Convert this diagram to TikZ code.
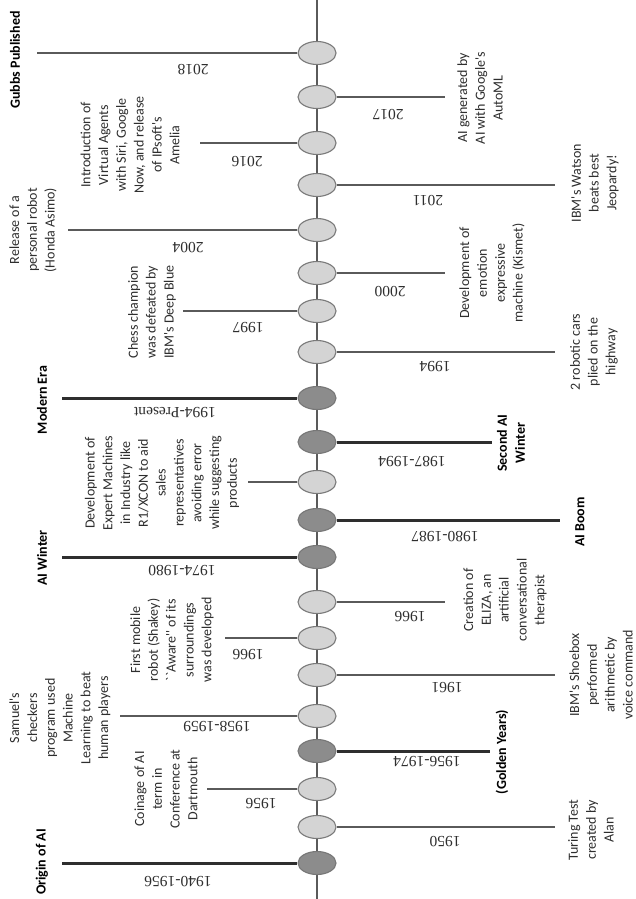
\documentclass[tikz,border=0pt]{standalone}
\usepackage{fontspec}
\usetikzlibrary{shapes.geometric}
\newfontfamily\labfont{Carlito}
\newfontfamily\yearfont{Liberation Serif}
\definecolor{evtfill}{HTML}{D4D4D4}
\definecolor{erafill}{HTML}{8C8C8C}
\definecolor{rimgray}{HTML}{7A7A7A}
\definecolor{linegray}{HTML}{5A5A5A}
\definecolor{eraline}{HTML}{2E2E2E}
\definecolor{txtgray}{HTML}{2E2E2E}
\tikzset{
  evt/.style={ellipse, draw=rimgray, fill=evtfill, line width=1.1pt,
    minimum width=38pt, minimum height=23pt, inner sep=0pt},
  era/.style={evt, fill=erafill, draw=erafill!85!black},
  stem/.style={draw=linegray, line width=2.3pt},
  erastem/.style={draw=eraline, line width=3pt},
  lab/.style={rotate=90, align=center, text=txtgray, inner sep=0pt,
    font=\labfont\fontsize{14}{17.8}\selectfont},
  eralab/.style={lab, text=black, font=\labfont\bfseries\fontsize{14}{17.8}\selectfont},
  yr/.style={rotate=180, text=txtgray, inner sep=0pt,
    font=\yearfont\fontsize{15.5}{17}\selectfont}
}
\begin{document}
\begin{tikzpicture}[x=1pt, y=-1pt]
\useasboundingbox (0,0) rectangle (635,899);
\fill[white] (0,0) rectangle (635,899);
% main axis
\coordinate (top) at (317,0);
\coordinate (bot) at (317,899);
\draw[linegray, line width=2.4pt] (top) -- (bot);
% events along the axis, newest at the top
\node[evt] (e1)  at (317,53)  {};
\node[evt] (e2)  at (317,97)  {};
\node[evt] (e3)  at (317,143) {};
\node[evt] (e4)  at (317,185) {};
\node[evt] (e5)  at (317,230) {};
\node[evt] (e6)  at (317,273) {};
\node[evt] (e7)  at (317,311) {};
\node[evt] (e8)  at (317,352) {};
\node[era] (e9)  at (317,398) {};
\node[era] (e10) at (317,442) {};
\node[evt] (e11) at (317,482) {};
\node[era] (e12) at (317,520) {};
\node[era] (e13) at (317,557) {};
\node[evt] (e14) at (317,602) {};
\node[evt] (e15) at (317,638) {};
\node[evt] (e16) at (317,675) {};
\node[evt] (e17) at (317,716) {};
\node[era] (e18) at (317,751) {};
\node[evt] (e19) at (317,789) {};
\node[evt] (e20) at (317,827) {};
\node[era] (e21) at (317,863) {};
% free ends of the stems
\coordinate (c1)  at (37,53);
\coordinate (c2)  at (445,97);
\coordinate (c3)  at (200,143);
\coordinate (c4)  at (555,185);
\coordinate (c5)  at (68,230);
\coordinate (c6)  at (445,273);
\coordinate (c7)  at (183,311);
\coordinate (c8)  at (555,352);
\coordinate (c9)  at (62,398);
\coordinate (c10) at (492,442);
\coordinate (c11) at (248,482);
\coordinate (c12) at (560,520);
\coordinate (c13) at (62,557);
\coordinate (c14) at (445,602);
\coordinate (c15) at (225,638);
\coordinate (c16) at (555,675);
\coordinate (c17) at (120,716);
\coordinate (c18) at (490,751);
\coordinate (c19) at (207,789);
\coordinate (c20) at (555,827);
\coordinate (c21) at (62,863);
% stems
\draw[stem] (e1.west) -- (c1);
\draw[stem] (e2.east) -- (c2);
\draw[stem] (e3.west) -- (c3);
\draw[stem] (e4.east) -- (c4);
\draw[stem] (e5.west) -- (c5);
\draw[stem] (e6.east) -- (c6);
\draw[stem] (e7.west) -- (c7);
\draw[stem] (e8.east) -- (c8);
\draw[erastem] (e9.west) -- (c9);
\draw[erastem] (e10.east) -- (c10);
\draw[stem] (e11.west) -- (c11);
\draw[erastem] (e12.east) -- (c12);
\draw[erastem] (e13.west) -- (c13);
\draw[stem] (e14.east) -- (c14);
\draw[stem] (e15.west) -- (c15);
\draw[stem] (e16.east) -- (c16);
\draw[stem] (e17.west) -- (c17);
\draw[erastem] (e18.east) -- (c18);
\draw[stem] (e19.west) -- (c19);
\draw[stem] (e20.east) -- (c20);
\draw[erastem] (e21.west) -- (c21);
% descriptions, left side
\node[eralab] (t1)  at (15,60)   {Gubbs Published};
\node[lab]    (t3)  at (130,145) {Introduction of\\Virtual Agents\\with Siri, Google\\Now, and release\\of IPsoft's\\Amelia};
\node[lab]    (t5)  at (33,230)  {Release of a\\personal robot\\(Honda Asimo)};
\node[lab]    (t7)  at (152,312) {Chess champion\\was defeated by\\IBM's Deep Blue};
\node[eralab] (t9)  at (42,400)  {Modern Era};
\node[lab]    (t11) at (162,483) {Development of\\Expert Machines\\in Industry like\\R1/XCON to aid\\sales\\representatives\\avoiding error\\while suggesting\\products};
\node[eralab] (t13) at (42,558)  {AI Winter};
\node[lab]    (t15) at (172,640) {First mobile\\robot (Shakey)\\``Aware'' of its\\surroundings\\was developed};
\node[lab]    (t17) at (60,718)  {Samuel's\\checkers\\program used\\Machine\\Learning to beat\\human players};
\node[lab]    (t19) at (166,789) {Coinage of AI\\term in\\Conference at\\Dartmouth};
\node[eralab] (t21) at (42,862)  {Origin of AI};
% descriptions, right side
\node[lab]    (t2)  at (480,98)  {AI generated by\\AI with Google's\\AutoML};
\node[lab]    (t4)  at (595,183) {IBM's Watson\\beats best\\Jeopardy!};
\node[lab]    (t6)  at (492,273) {Development of\\emotion\\expressive\\machine (Kismet)};
\node[lab]    (t8)  at (594,352) {2 robotic cars\\plied on the\\highway};
\node[eralab] (t10) at (511,443) {Second AI\\Winter};
\node[eralab] (t12) at (580,522) {AI Boom};
\node[lab]    (t14) at (505,600) {Creation of\\ELIZA, an\\artificial\\conversational\\therapist};
\node[lab]    (t16) at (601,675) {IBM's Shoebox\\performed\\arithmetic by\\voice command};
\node[eralab] (t18) at (502,752) {(Golden Years)};
\node[lab]    (t20) at (591,830) {Turing Test\\created by\\Alan};
% years under the stems
\node[yr] (y1)  at (193,70)  {2018};
\node[yr] (y2)  at (388,115) {2017};
\node[yr] (y3)  at (247,162) {2016};
\node[yr] (y4)  at (428,201) {2011};
\node[yr] (y5)  at (188,248) {2004};
\node[yr] (y6)  at (390,292) {2000};
\node[yr] (y7)  at (248,328) {1997};
\node[yr] (y8)  at (435,367) {1994};
\node[yr] (y9)  at (175,413) {1994-Present};
\node[yr] (y10) at (412,462) {1987-1994};
\node[yr] (y12) at (445,537) {1980-1987};
\node[yr] (y13) at (182,571) {1974-1980};
\node[yr] (y14) at (410,617) {1966};
\node[yr] (y15) at (248,655) {1966};
\node[yr] (y16) at (447,688) {1961};
\node[yr] (y17) at (217,727) {1958-1959};
\node[yr] (y18) at (427,762) {1956-1974};
\node[yr] (y19) at (261,804) {1956};
\node[yr] (y20) at (445,842) {1950};
\node[yr] (y21) at (178,882) {1940-1956};
\end{tikzpicture}
\end{document}
